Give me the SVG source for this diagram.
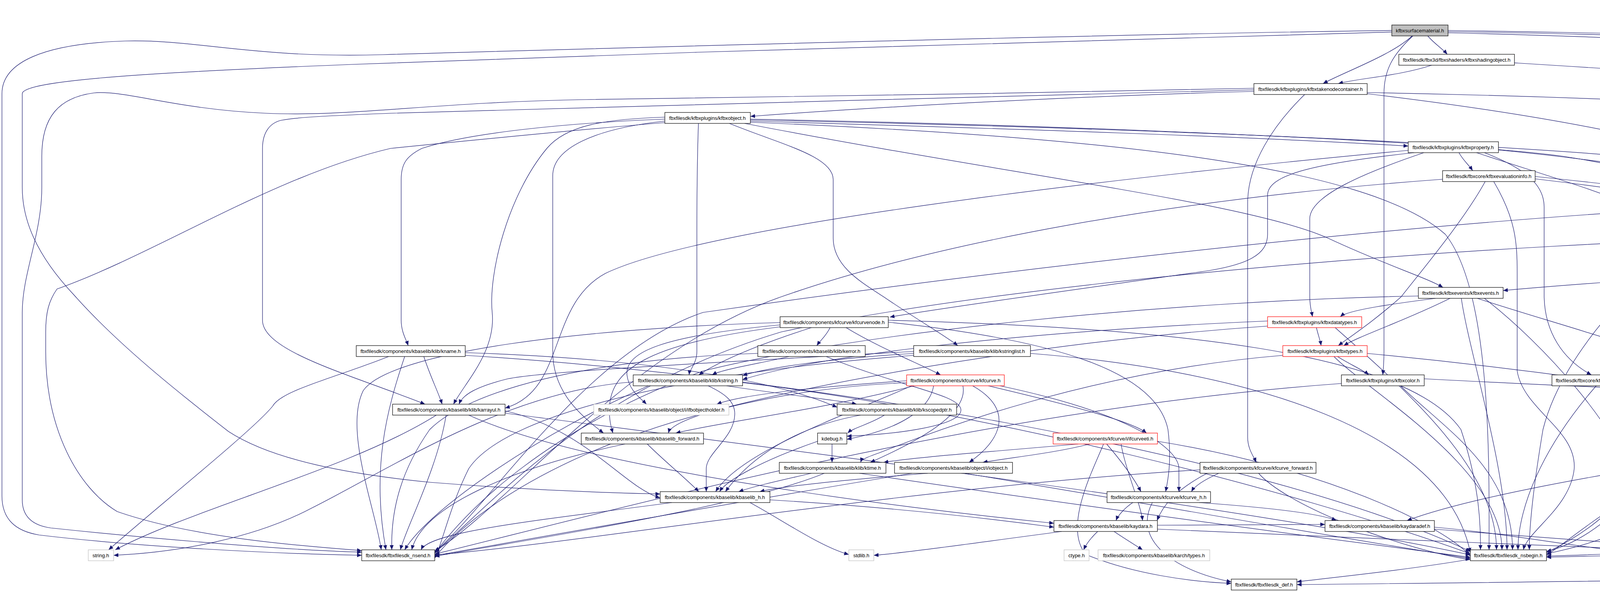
<svg xmlns="http://www.w3.org/2000/svg" width="6119" height="1516" viewBox="0 0 6119 1516">
<style>
.n rect{fill:#fff;stroke:#000;stroke-width:1.2}
.g rect{stroke:#bfbfbf}
.r rect{stroke:#ff0000}
.root rect{fill:#bfbfbf}
text{font-family:"Liberation Sans",Arial,sans-serif;font-size:13px;text-anchor:middle;fill:#000}
#edges path{fill:none;stroke:#191970;stroke-width:1.2;marker-end:url(#a)}
</style>
<defs>
<marker id="a" markerUnits="userSpaceOnUse" markerWidth="13" markerHeight="10" refX="12" refY="5" orient="auto"><path d="M0,0 L12,5 L0,10 z" fill="#191970"/></marker>
</defs>
<rect width="6119" height="1516" fill="#fff"/>
<g id="edges">
<path d="M3655,92 C3672,112 3692,124 3705,139"/>
<path d="M3615,92 C3565,140 3440,185 3387,214"/>
<path d="M3707,78 C4500,90 5300,115 5866,141"/>
<path d="M3617,92 C3565,140 3543,180 3543,240 L3543,900 C3543,930 3541,948 3540,960"/>
<path d="M3707,84 C4400,100 5300,150 5420,190 C5480,205 5498,225 5498,260 L5498,900 C5498,970 5250,1005 5150,1035"/>
<path d="M3707,81 C4600,95 5550,140 5760,190 C5810,205 5828,225 5828,260 L5828,1190 C5828,1280 5500,1340 5100,1372 C4600,1408 4200,1422 3959,1427"/>
<path d="M3563,78 C2800,88 1500,125 980,140 C650,150 500,100 320,105 C110,112 5,160 5,240 L5,1270 C5,1330 40,1360 100,1370 C350,1400 700,1418 926,1422"/>
<path d="M3563,82 C2900,100 1800,130 900,165 C400,185 57,205 57,240 L57,480 C57,560 90,650 190,756 C300,880 450,1000 585,1105 C700,1180 900,1215 1100,1235 C1350,1255 1550,1262 1690,1265"/>
<path d="M3665,167 C3580,195 3480,200 3426,214"/>
<path d="M3877,161 C4500,200 5300,250 5620,288"/>
<path d="M5713,316 C5760,380 5778,420 5778,460 L5778,1190 C5778,1260 5960,1280 5980,1330 C5995,1380 5940,1420 5849,1437 C5500,1470 4500,1485 3320,1497"/>
<path d="M3210,234 C2800,245 2300,270 1921,298"/>
<path d="M3340,242 C3260,320 3194,420 3194,520 L3194,1120 C3194,1150 3210,1170 3216,1184"/>
<path d="M3210,226 C2700,240 1700,250 1500,255 C1100,262 900,300 680,290 C450,280 320,230 240,238 C150,250 107,300 107,400 L107,480 C107,600 57,700 57,800 L57,1280 C57,1320 80,1345 130,1352 C300,1370 700,1408 926,1414"/>
<path d="M3210,230 C2600,250 1500,270 1000,290 C850,296 760,300 720,308 C690,315 672,340 672,380 L672,820 C672,900 900,960 1088,1035"/>
<path d="M3500,237 C4200,250 5000,290 5300,330 C5500,370 5610,450 5610,560 L5610,1180 C5610,1300 5300,1380 4941,1420"/>
<path d="M3500,240 C4000,300 4400,380 4520,460 C4560,500 4540,560 4480,620 L4150,920 C3950,1120 3886,1300 3886,1408"/>
<path d="M1788,316 C1785,400 1784,500 1784,600 L1784,900 C1784,930 1766,945 1764,960"/>
<path d="M1867,316 C2000,370 2133,400 2133,460 L2133,610 C2133,680 2200,720 2262,760 C2350,820 2420,860 2452,885"/>
<path d="M1906,316 C2600,450 3200,520 3400,610 C3550,680 3650,710 3694,736"/>
<path d="M1921,305 C2700,320 3700,360 4000,400 C4200,430 4350,480 4405,512"/>
<path d="M1921,310 C2600,330 3200,350 3605,374"/>
<path d="M1702,305 C1450,315 1200,340 1080,380 C1040,400 1027,420 1027,460 L1027,820 C1027,850 1040,870 1045,885"/>
<path d="M1702,300 C1550,305 1450,320 1400,380 C1300,500 1250,700 1260,800 C1270,900 1190,980 1161,1035"/>
<path d="M1702,310 C1520,330 1415,380 1415,450 L1415,900 C1415,1000 1480,1060 1545,1109"/>
<path d="M1702,314 C1500,330 1200,360 1000,380 C700,450 400,650 146,740 C125,770 117,800 117,850 L117,900 C117,1100 200,1250 300,1310 C500,1380 800,1400 926,1410"/>
<path d="M1921,313 C2800,350 3500,420 3700,600 C3820,750 3812,1200 3812,1408"/>
<path d="M1921,307 C3000,330 4200,380 4500,440 C4800,500 5100,560 5140,640 C5160,700 5120,900 5100,1035"/>
<path d="M3735,391 C3745,410 3760,422 3770,437"/>
<path d="M3645,391 C3500,440 3353,500 3353,560 L3353,760 C3353,785 3358,800 3360,811"/>
<path d="M3800,391 C3900,430 3953,470 3953,530 L3953,760 C3955,850 4000,920 4074,960"/>
<path d="M3620,391 C3350,420 3245,450 3245,500 L3245,600 C3245,650 3200,680 3060,698 C2800,735 2400,790 2278,812"/>
<path d="M3605,385 C2800,460 1800,580 1550,700 C1400,780 1450,1000 1293,1045"/>
<path d="M3780,391 C4050,480 4285,540 4285,620 L4285,1000 C4285,1200 4100,1380 3959,1412"/>
<path d="M3836,384 C4300,430 4800,520 5000,600 C5150,680 5130,900 5115,1035"/>
<path d="M3930,458 C4100,478 4250,500 4316,512"/>
<path d="M3802,465 C3750,560 3650,680 3587,760 C3520,820 3460,860 3426,885"/>
<path d="M3824,465 C3880,560 3884,620 3884,700 L3884,950 C3900,1050 4036,1100 4030,1200 C4020,1300 3910,1360 3900,1408"/>
<path d="M3693,459 C3000,510 2400,620 2000,760 C1600,900 1300,1300 1113,1411"/>
<path d="M3930,452 C4400,500 4800,560 5000,640 C5100,700 5090,900 5080,1035"/>
<path d="M4490,540 C4600,560 4680,575 4727,587"/>
<path d="M4322,533 C3500,580 2500,700 1800,800 C1500,900 1250,1300 1113,1413"/>
<path d="M4397,540 C4200,700 4000,900 3950,1100 C3925,1250 3915,1350 3915,1408"/>
<path d="M4510,540 C4900,600 5160,620 5173,700 L5173,900 C5173,960 5070,1000 5060,1035"/>
<path d="M4825,615 C4850,638 4885,650 4902,661"/>
<path d="M4795,615 C4793,700 4793,800 4793,900 L4798,960"/>
<path d="M4775,615 C4700,680 4668,720 4668,800 L4668,850 C4668,900 4570,940 4509,960"/>
<path d="M4892,615 C5050,660 5092,700 5092,760 L5092,900 C5092,960 5040,1000 5030,1035"/>
<path d="M4905,615 C5100,680 5250,760 5300,860 C5340,940 5346,1000 5346,1100 L5346,1270 C5346,1320 5100,1350 4600,1395 C4300,1412 4100,1420 3959,1424"/>
<path d="M4693,603 C3800,620 2600,720 2000,850 C1500,1000 1250,1300 1113,1415"/>
<path d="M4805,680 C4400,700 4000,730 3848,744"/>
<path d="M4920,689 C4890,800 4830,900 4808,960"/>
<path d="M4936,689 C4950,800 4980,950 4990,1035"/>
<path d="M3675,764 C3550,780 3450,795 3431,811"/>
<path d="M3712,764 C3600,820 3480,860 3440,885"/>
<path d="M3741,764 C3760,900 3858,1200 3858,1408"/>
<path d="M3782,764 C3950,820 4250,900 4367,960"/>
<path d="M3800,764 C3950,880 4150,1100 4192,1259"/>
<path d="M3631,758 C3000,770 2200,850 1800,950 C1400,1100 1200,1300 1113,1417"/>
<path d="M2125,839 C2115,860 2100,872 2091,885"/>
<path d="M2166,839 C2250,890 2350,930 2408,960"/>
<path d="M2077,839 C1950,880 1850,920 1789,960"/>
<path d="M1997,832 C1700,860 1600,900 1605,960 C1610,1000 1640,1020 1655,1035"/>
<path d="M1997,837 C1650,880 1560,950 1560,1050 C1560,1080 1565,1095 1569,1109"/>
<path d="M1997,826 C1500,840 1000,900 930,1000 C880,1100 960,1300 976,1408"/>
<path d="M2274,820 C3000,840 3600,900 3740,1100 C3790,1250 3790,1350 3790,1408"/>
<path d="M2274,825 C2700,870 2960,950 2990,1100 C3000,1180 2990,1230 2984,1259"/>
<path d="M3370,839 C3375,860 3380,872 3382,885"/>
<path d="M3245,822 C2600,850 2100,910 1901,972"/>
<path d="M3418,839 C3600,1000 3831,1200 3831,1408"/>
<path d="M3245,835 C2600,880 2000,1000 1800,1060 C1740,1080 1715,1095 1711,1109"/>
<path d="M1085,913 C1100,960 1120,1000 1132,1035"/>
<path d="M995,913 C850,970 720,1000 698,1040 C650,1100 400,1300 278,1408"/>
<path d="M1036,913 C990,1050 950,1200 988,1408"/>
<path d="M1191,903 C1700,920 2000,980 2143,1043"/>
<path d="M1191,910 C2000,960 3200,1150 3764,1412"/>
<path d="M2020,913 C1950,930 1850,945 1823,960"/>
<path d="M2115,913 C2300,990 2460,1010 2460,1050 C2460,1090 2300,1112 2168,1117"/>
<path d="M1940,905 C1500,920 1200,1000 1100,1100 C1030,1200 1000,1300 1003,1408"/>
<path d="M2339,905 C2100,920 1950,945 1901,962"/>
<path d="M2339,900 C1800,930 1400,950 1300,970 C1220,990 1185,1010 1175,1035"/>
<path d="M2339,910 C1800,950 1300,1050 1200,1200 C1150,1300 1130,1400 1113,1429"/>
<path d="M2638,905 C3200,950 3700,1100 3764,1415"/>
<path d="M3424,913 C3450,930 3490,948 3504,960"/>
<path d="M3415,913 C3500,1000 3845,1200 3845,1408"/>
<path d="M3284,910 C2800,950 2400,1100 2250,1160 C2215,1172 2205,1178 2203,1184"/>
<path d="M3500,905 C4500,1000 5400,1200 5732,1333"/>
<path d="M1860,988 C2000,1010 2150,1025 2193,1035"/>
<path d="M1813,988 C1860,1010 1881,1030 1881,1060 C1881,1120 1808,1160 1808,1200 C1808,1230 1808,1245 1808,1259"/>
<path d="M1621,978 C1300,1000 1000,1200 800,1300 C650,1380 450,1415 291,1422"/>
<path d="M1660,988 C1400,1100 1100,1300 1036,1408"/>
<path d="M1901,980 C2500,1050 3300,1250 3764,1418"/>
<path d="M2340,988 C2100,1050 1850,1080 1730,1109"/>
<path d="M2390,988 C2380,1050 2300,1100 2168,1125"/>
<path d="M2465,988 C2480,1060 2350,1130 2228,1184"/>
<path d="M2490,988 C2600,1050 2560,1130 2481,1184"/>
<path d="M2530,988 C2750,1040 2900,1080 2935,1109"/>
<path d="M2560,988 C2900,1060 3018,1150 3018,1200 C3018,1230 3018,1245 3018,1259"/>
<path d="M2340,985 C2200,1050 1900,1150 1832,1259"/>
<path d="M2321,980 C1800,1000 1300,1200 1113,1427"/>
<path d="M2321,975 C2100,990 1900,1010 1835,1035"/>
<path d="M3434,982 C2500,1050 1600,1300 1113,1419"/>
<path d="M3585,988 C3700,1100 3872,1200 3872,1408"/>
<path d="M3646,970 C4200,1000 4700,1010 4870,1042"/>
<path d="M4114,988 C4300,1100 4200,1300 3959,1415"/>
<path d="M4197,975 C4500,1000 4800,1030 4870,1050"/>
<path d="M4431,988 C4500,1150 4300,1350 3959,1418"/>
<path d="M4518,975 C4700,1000 4880,1015 4902,1035"/>
<path d="M4837,988 C4880,1008 4935,1025 4950,1035"/>
<path d="M4790,988 C4751,1100 4751,1200 4751,1300 C4751,1360 4738,1390 4736,1408"/>
<path d="M1117,1063 C900,1200 500,1300 295,1408"/>
<path d="M1142,1063 C1120,1200 1040,1350 1025,1408"/>
<path d="M1293,1052 C1500,1100 1600,1250 1690,1275"/>
<path d="M1200,1063 C1500,1200 2300,1300 2698,1340"/>
<path d="M1293,1058 C2000,1150 3200,1300 3764,1421"/>
<path d="M2264,1063 C2230,1085 2185,1095 2170,1109"/>
<path d="M2203,1063 C2000,1100 1900,1200 1857,1259"/>
<path d="M4951,1063 C4800,1100 4700,1120 4590,1134 C4200,1200 3800,1260 3602,1333"/>
<path d="M1657,1137 C1700,1180 1750,1220 1789,1259"/>
<path d="M1600,1137 C1300,1200 1080,1300 1054,1408"/>
<path d="M2130,1137 L2130,1184"/>
<path d="M2093,1130 C1950,1180 1860,1230 1842,1259"/>
<path d="M2760,1137 C2500,1160 2350,1170 2262,1184"/>
<path d="M2790,1137 C2700,1160 2600,1170 2516,1184"/>
<path d="M2833,1137 C2870,1180 2900,1220 2921,1259"/>
<path d="M2825,1137 C2800,1200 2720,1350 2780,1420 C2900,1470 3050,1490 3152,1494"/>
<path d="M2963,1130 C3400,1200 3700,1350 3764,1424"/>
<path d="M2870,1137 C2880,1200 2920,1290 2925,1333"/>
<path d="M2077,1212 C2000,1230 1930,1245 1891,1259"/>
<path d="M2110,1212 C1900,1300 1300,1390 1113,1425"/>
<path d="M2200,1212 C2800,1300 3400,1380 3764,1427"/>
<path d="M2375,1212 C2150,1230 2000,1245 1945,1259"/>
<path d="M2335,1212 C1800,1300 1300,1390 1113,1423"/>
<path d="M2470,1212 C3000,1300 3500,1390 3764,1430"/>
<path d="M3072,1203 C2300,1250 1500,1390 1113,1421"/>
<path d="M3222,1212 C3300,1300 3600,1410 3764,1433"/>
<path d="M3120,1212 C3080,1230 3058,1245 3050,1259"/>
<path d="M3090,1212 C3000,1260 2975,1300 2962,1333"/>
<path d="M1971,1280 C2300,1300 2550,1330 2698,1350"/>
<path d="M1920,1287 C2000,1330 2100,1400 2173,1420"/>
<path d="M1720,1287 C1400,1330 1100,1360 1078,1408"/>
<path d="M2900,1287 C2880,1300 2862,1320 2857,1333"/>
<path d="M3070,1287 C3250,1300 3380,1315 3421,1333"/>
<path d="M2950,1287 C2900,1380 3000,1460 3152,1490"/>
<path d="M4280,1287 C4400,1330 4420,1390 4341,1422"/>
<path d="M4150,1287 C4050,1350 3990,1405 3959,1421"/>
<path d="M4300,1287 C4450,1320 4600,1370 4663,1415"/>
<path d="M2810,1361 C2790,1380 2780,1395 2774,1408"/>
<path d="M2852,1361 C2880,1380 2905,1395 2925,1408"/>
<path d="M2963,1345 C3150,1345 3300,1343 3392,1343"/>
<path d="M2718,1361 C2500,1390 2300,1418 2237,1422"/>
<path d="M2963,1355 C3500,1380 4300,1410 4663,1425"/>
<path d="M3672,1355 C4000,1380 4400,1412 4663,1420"/>
<path d="M3672,1350 C3900,1370 4100,1415 4281,1422"/>
<path d="M5801,1361 L5801,1408"/>
<path d="M3764,1432 C3600,1460 3400,1480 3320,1490"/>
</g>
<g id="n0" class="n root"><rect x="3563" y="64" width="144" height="28"/><text x="3635" y="82.5">kfbxsurfacematerial.h</text></g>
<g id="n1" class="n"><rect x="3581" y="139" width="296" height="28"/><text x="3729" y="157.5">fbxfilesdk/fbx3d/fbxshaders/kfbxshadingobject.h</text></g>
<g id="n2" class="n"><rect x="5866" y="139" width="248" height="28"/><text x="5990" y="157.5">fbxfilesdk/kfbxplugins/kfbxgroupname.h</text></g>
<g id="n3" class="n"><rect x="3210" y="214" width="290" height="28"/><text x="3355" y="232.5">fbxfilesdk/kfbxplugins/kfbxtakenodecontainer.h</text></g>
<g id="n4" class="n"><rect x="1702" y="288" width="219" height="28"/><text x="1811" y="306.5">fbxfilesdk/kfbxplugins/kfbxobject.h</text></g>
<g id="n5" class="n"><rect x="5612" y="288" width="180" height="28"/><text x="5702" y="306.5">fbxfilesdk/fbx3d/fbx3d_def.h</text></g>
<g id="n6" class="n"><rect x="3605" y="363" width="231" height="28"/><text x="3720" y="381.5">fbxfilesdk/kfbxplugins/kfbxproperty.h</text></g>
<g id="n7" class="n"><rect x="3693" y="437" width="237" height="28"/><text x="3811" y="455.5">fbxfilesdk/fbxcore/kfbxevaluationinfo.h</text></g>
<g id="n8" class="n"><rect x="4322" y="512" width="208" height="28"/><text x="4426" y="530.5">fbxfilesdk/kfbxplugins/kfbxplug.h</text></g>
<g id="n9" class="n"><rect x="4693" y="587" width="219" height="28"/><text x="4802" y="605.5">fbxfilesdk/kfbxevents/kfbxemitter.h</text></g>
<g id="n10" class="n"><rect x="4805" y="661" width="252" height="28"/><text x="4931" y="679.5">fbxfilesdk/kfbxevents/kfbxeventhandler.h</text></g>
<g id="n11" class="n"><rect x="3631" y="736" width="217" height="28"/><text x="3739" y="754.5">fbxfilesdk/kfbxevents/kfbxevents.h</text></g>
<g id="n12" class="n"><rect x="1997" y="811" width="277" height="28"/><text x="2135" y="829.5">fbxfilesdk/components/kfcurve/kfcurvenode.h</text></g>
<g id="n13" class="n r"><rect x="3245" y="811" width="241" height="28"/><text x="3365" y="829.5">fbxfilesdk/kfbxplugins/kfbxdatatypes.h</text></g>
<g id="n14" class="n"><rect x="912" y="885" width="279" height="28"/><text x="1051" y="903.5">fbxfilesdk/components/kbaselib/klib/kname.h</text></g>
<g id="n15" class="n"><rect x="1940" y="885" width="275" height="28"/><text x="2077" y="903.5">fbxfilesdk/components/kbaselib/klib/kerror.h</text></g>
<g id="n16" class="n"><rect x="2339" y="885" width="299" height="28"/><text x="2488" y="903.5">fbxfilesdk/components/kbaselib/klib/kstringlist.h</text></g>
<g id="n17" class="n r"><rect x="3284" y="885" width="216" height="28"/><text x="3392" y="903.5">fbxfilesdk/kfbxplugins/kfbxtypes.h</text></g>
<g id="n18" class="n"><rect x="1621" y="960" width="280" height="28"/><text x="1761" y="978.5">fbxfilesdk/components/kbaselib/klib/kstring.h</text></g>
<g id="n19" class="n r"><rect x="2321" y="960" width="250" height="28"/><text x="2446" y="978.5">fbxfilesdk/components/kfcurve/kfcurve.h</text></g>
<g id="n20" class="n"><rect x="3434" y="960" width="212" height="28"/><text x="3540" y="978.5">fbxfilesdk/kfbxplugins/kfbxcolor.h</text></g>
<g id="n21" class="n"><rect x="3973" y="960" width="224" height="28"/><text x="4085" y="978.5">fbxfilesdk/fbxcore/kfbxpropertydef.h</text></g>
<g id="n22" class="n"><rect x="4323" y="960" width="195" height="28"/><text x="4420" y="978.5">fbxfilesdk/kfbxmp/kfbxmutex.h</text></g>
<g id="n23" class="n"><rect x="4642" y="960" width="312" height="28"/><text x="4798" y="978.5">fbxfilesdk/components/kbaselib/klib/kintrusivelist.h</text></g>
<g id="n24" class="n g"><rect x="1520" y="1035" width="346" height="28"/><text x="1693" y="1053.5">fbxfilesdk/components/kbaselib/object/i/ifbobjectholder.h</text></g>
<g id="n25" class="n"><rect x="1005" y="1035" width="288" height="28"/><text x="1149" y="1053.5">fbxfilesdk/components/kbaselib/klib/karrayul.h</text></g>
<g id="n26" class="n"><rect x="2143" y="1035" width="306" height="28"/><text x="2296" y="1053.5">fbxfilesdk/components/kbaselib/klib/kscopedptr.h</text></g>
<g id="n27" class="n"><rect x="4870" y="1035" width="296" height="28"/><text x="5018" y="1053.5">fbxfilesdk/components/kbaselib/kaydaradef_h.h</text></g>
<g id="n28" class="n"><rect x="1488" y="1109" width="313" height="28"/><text x="1644" y="1127.5">fbxfilesdk/components/kbaselib/kbaselib_forward.h</text></g>
<g id="n29" class="n"><rect x="2093" y="1109" width="75" height="28"/><text x="2130" y="1127.5">kdebug.h</text></g>
<g id="n30" class="n r"><rect x="2696" y="1109" width="267" height="28"/><text x="2829" y="1127.5">fbxfilesdk/components/kfcurve/i/ifcurveeti.h</text></g>
<g id="n31" class="n"><rect x="1995" y="1184" width="273" height="28"/><text x="2131" y="1202.5">fbxfilesdk/components/kbaselib/klib/ktime.h</text></g>
<g id="n32" class="n"><rect x="2290" y="1184" width="302" height="28"/><text x="2441" y="1202.5">fbxfilesdk/components/kbaselib/object/i/iobject.h</text></g>
<g id="n33" class="n"><rect x="3072" y="1184" width="297" height="28"/><text x="3220" y="1202.5">fbxfilesdk/components/kfcurve/kfcurve_forward.h</text></g>
<g id="n34" class="n"><rect x="1690" y="1259" width="281" height="28"/><text x="1830" y="1277.5">fbxfilesdk/components/kbaselib/kbaselib_h.h</text></g>
<g id="n35" class="n"><rect x="2834" y="1259" width="265" height="28"/><text x="2966" y="1277.5">fbxfilesdk/components/kfcurve/kfcurve_h.h</text></g>
<g id="n36" class="n"><rect x="4101" y="1259" width="264" height="28"/><text x="4233" y="1277.5">fbxfilesdk/components/kbaselib/klib/t-str.h</text></g>
<g id="n37" class="n"><rect x="2698" y="1333" width="265" height="28"/><text x="2830" y="1351.5">fbxfilesdk/components/kbaselib/kaydara.h</text></g>
<g id="n38" class="n"><rect x="3392" y="1333" width="280" height="28"/><text x="3532" y="1351.5">fbxfilesdk/components/kbaselib/kaydaradef.h</text></g>
<g id="n39" class="n"><rect x="5638" y="1333" width="327" height="28"/><text x="5801" y="1351.5">fbxfilesdk/components/kbaselib/isocpp_conformant.h</text></g>
<g id="n40" class="n g"><rect x="226" y="1408" width="65" height="28"/><text x="258" y="1426.5">string.h</text></g>
<g id="n41" class="n"><rect x="926" y="1408" width="187" height="28"/><text x="1019" y="1426.5">fbxfilesdk/fbxfilesdk_nsend.h</text></g>
<g id="n42" class="n g"><rect x="2173" y="1408" width="64" height="28"/><text x="2205" y="1426.5">stdlib.h</text></g>
<g id="n43" class="n g"><rect x="2724" y="1408" width="64" height="28"/><text x="2756" y="1426.5">ctype.h</text></g>
<g id="n44" class="n g"><rect x="2811" y="1408" width="286" height="28"/><text x="2954" y="1426.5">fbxfilesdk/components/kbaselib/karch/types.h</text></g>
<g id="n45" class="n"><rect x="3764" y="1408" width="195" height="28"/><text x="3861" y="1426.5">fbxfilesdk/fbxfilesdk_nsbegin.h</text></g>
<g id="n46" class="n g"><rect x="4281" y="1408" width="60" height="28"/><text x="4311" y="1426.5">stdio.h</text></g>
<g id="n47" class="n"><rect x="4663" y="1408" width="278" height="28"/><text x="4802" y="1426.5">fbxfilesdk/components/kbaselib/karch/arch.h</text></g>
<g id="n48" class="n g"><rect x="5762" y="1408" width="79" height="28"/><text x="5801" y="1426.5">inttypes.h</text></g>
<g id="n49" class="n"><rect x="3152" y="1483" width="168" height="28"/><text x="3236" y="1501.5">fbxfilesdk/fbxfilesdk_def.h</text></g>
</svg>
